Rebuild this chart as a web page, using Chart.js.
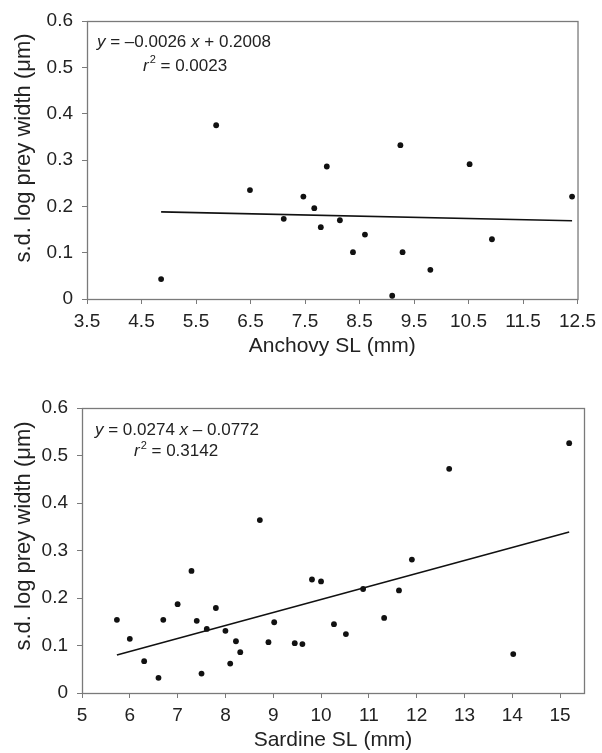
<!DOCTYPE html>
<html><head><meta charset="utf-8">
<script src="https://cdn.jsdelivr.net/npm/chart.js@4.4.1/dist/chart.umd.min.js"></script>
<style>
html,body{margin:0;padding:0;background:#fff;}
#wrap{position:relative;width:602px;height:753px;background:#fff;}
#c1{position:absolute;left:0;top:0;}
#c2{position:absolute;left:0;top:359px;}
</style></head><body>
<div id="wrap"><canvas id="c1" width="602" height="359"></canvas><canvas id="c2" width="602" height="394"></canvas></div>
<script>
// ---- data ----
const anchovySL = [4.86, 5.87, 6.49, 7.11, 7.47, 7.67, 7.79, 7.90, 8.14, 8.38, 8.60, 9.10, 9.25, 9.29, 9.80, 10.52, 10.93, 12.40];
const anchovySD = [0.043, 0.375, 0.235, 0.173, 0.221, 0.196, 0.155, 0.286, 0.170, 0.101, 0.139, 0.007, 0.332, 0.101, 0.063, 0.291, 0.129, 0.221];
const anchovyTrendX = [4.86, 12.40];
const anchovyTrendY = [0.188, 0.169];

const sardineSL = [5.73, 6.00, 6.30, 6.60, 6.70, 7.00, 7.29, 7.40, 7.50, 7.61, 7.80, 8.00, 8.10, 8.22, 8.31, 8.72, 8.90, 9.02, 9.45, 9.61, 9.81, 10.00, 10.27, 10.52, 10.88, 11.32, 11.63, 11.90, 12.68, 14.02, 15.19];
const sardineSD = [0.154, 0.114, 0.067, 0.032, 0.154, 0.187, 0.257, 0.152, 0.041, 0.135, 0.179, 0.131, 0.062, 0.109, 0.086, 0.364, 0.107, 0.149, 0.105, 0.103, 0.239, 0.235, 0.145, 0.124, 0.219, 0.158, 0.216, 0.281, 0.472, 0.082, 0.526];
const sardineTrendX = [5.73, 15.19];
const sardineTrendY = [0.080, 0.339];

const anchovyXTicks = [3.5, 4.5, 5.5, 6.5, 7.5, 8.5, 9.5, 10.5, 11.5, 12.5];
const sardineXTicks = [5, 6, 7, 8, 9, 10, 11, 12, 13, 14, 15];
const yTicks = [0, 0.1, 0.2, 0.3, 0.4, 0.5, 0.6];

const yTitle = 's.d. log prey width (\u03bcm)';
const anchovyEq = ['y = \u20130.0026 x + 0.2008', 'r2 = 0.0023'];
const sardineEq = ['y = 0.0274 x \u2013 0.0772', 'r2 = 0.3142'];

const FONT = '"Liberation Sans", Arial, Helvetica, sans-serif';
const AXIS = '#7a7a7a';
const TEXT = '#222';

const framePlugin = {
  id: 'frame',
  beforeDatasetsDraw(chart) {
    const a = chart.chartArea, ctx = chart.ctx;
    ctx.save();
    ctx.strokeStyle = AXIS;
    ctx.lineWidth = 1.3;
    ctx.strokeRect(a.left + 0.5, a.top + 0.5, a.right - a.left, a.bottom - a.top);
    ctx.restore();
  }
};

// rotated y-axis title, placed slightly above the plot centre like the original
const yTitlePlugin = {
  id: 'ytitle',
  afterDraw(chart, args, opts) {
    if (!opts || !opts.text) return;
    const ctx = chart.ctx;
    ctx.save();
    ctx.translate(opts.x, opts.y);
    ctx.rotate(-Math.PI / 2);
    ctx.font = `${opts.size}px ${FONT}`;
    ctx.fillStyle = TEXT;
    ctx.textAlign = 'center';
    ctx.textBaseline = 'middle';
    ctx.fillText(opts.text, 0, 0);
    ctx.restore();
  }
};

// draws "y = ... x ..." with italic variables and r^2 superscript
const eqPlugin = {
  id: 'eqn',
  afterDraw(chart, args, opts) {
    if (!opts || !opts.lines) return;
    const ctx = chart.ctx;
    ctx.save();
    ctx.fillStyle = TEXT;
    ctx.textBaseline = 'middle';
    const size = opts.size || 16;
    opts.lines.forEach((line, li) => {
      let x = opts.pos[li][0];
      const y = opts.pos[li][1];
      const runs = [];
      if (li === 0) {
        const m = line.match(/^(y)( = .*? )(x)( .*)$/);
        runs.push({t: m[1], it: true}, {t: m[2]}, {t: m[3], it: true}, {t: m[4]});
      } else {
        runs.push({t: 'r', it: true}, {t: '2', sup: true}, {t: line.slice(2)});
      }
      runs.forEach(r => {
        if (r.sup) {
          ctx.font = `${Math.round(size * 0.62)}px ${FONT}`;
          ctx.fillText(r.t, x + 1, y - size * 0.33);
          x += ctx.measureText(r.t).width + 1;
        } else {
          ctx.font = `${r.it ? 'italic ' : ''}${size}px ${FONT}`;
          ctx.fillText(r.t, x, y);
          x += ctx.measureText(r.t).width;
        }
      });
    });
    ctx.restore();
  }
};

function makeChart(canvasId, xs, ys, tx, ty, xTicks, xmin, xmax, xTitle, layoutPad, yWidth, xHeight, xFmt, eqLines, eqPos, yTitlePos) {
  const pts = xs.map((v, i) => ({x: v, y: ys[i]}));
  const trend = tx.map((v, i) => ({x: v, y: ty[i]}));
  return new Chart(document.getElementById(canvasId), {
    type: 'scatter',
    data: {
      datasets: [
        {data: pts, backgroundColor: '#111', borderWidth: 0, pointRadius: 2.9, pointHoverRadius: 2.9},
        {data: trend, showLine: true, borderColor: '#111', borderWidth: 1.6, pointRadius: 0, fill: false}
      ]
    },
    plugins: [framePlugin, eqPlugin, yTitlePlugin],
    options: {
      responsive: false,
      animation: false,
      devicePixelRatio: 1,
      layout: {padding: layoutPad},
      plugins: {
        legend: {display: false},
        tooltip: {enabled: false},
        eqn: {lines: eqLines, pos: eqPos, size: 17},
        ytitle: {text: yTitle, x: yTitlePos[0], y: yTitlePos[1], size: 22}
      },
      scales: {
        x: {
          type: 'linear', min: xmin, max: xmax,
          afterBuildTicks: s => { s.ticks = xTicks.map(v => ({value: v})); },
          afterFit: s => { s.height = xHeight; },
          grid: {drawOnChartArea: false, drawTicks: true, tickLength: 5, color: AXIS},
          border: {display: false},
          ticks: {color: TEXT, font: {family: FONT, size: 19}, padding: 6, maxRotation: 0, autoSkip: false, callback: xFmt},
          title: {display: true, text: xTitle, color: TEXT, font: {family: FONT, size: 21}, padding: {top: 0, bottom: 0}}
        },
        y: {
          type: 'linear', min: 0, max: 0.6,
          afterBuildTicks: s => { s.ticks = yTicks.map(v => ({value: v})); },
          afterFit: s => { s.width = yWidth; },
          grid: {drawOnChartArea: false, drawTicks: true, tickLength: 5, color: AXIS},
          border: {display: false},
          ticks: {color: TEXT, font: {family: FONT, size: 19}, padding: 9, autoSkip: false, callback: v => v === 0 ? '0' : v.toFixed(1)},
          title: {display: false}
        }
      }
    }
  });
}

makeChart('c1', anchovySL, anchovySD, anchovyTrendX, anchovyTrendY, anchovyXTicks, 3.5, 12.5,
  'Anchovy SL (mm)', {top: 21, right: 22, left: 0, bottom: 0}, 87, 60, v => v.toFixed(1),
  anchovyEq, [[97, 42], [143, 66]], [24, 148]);

makeChart('c2', sardineSL, sardineSD, sardineTrendX, sardineTrendY, sardineXTicks, 5, 15.5,
  'Sardine SL (mm)', {top: 49, right: 18, left: 0, bottom: 0}, 82, 60, v => String(v),
  sardineEq, [[95, 71], [134, 92.5]], [24, 177]);
</script>
</body></html>
